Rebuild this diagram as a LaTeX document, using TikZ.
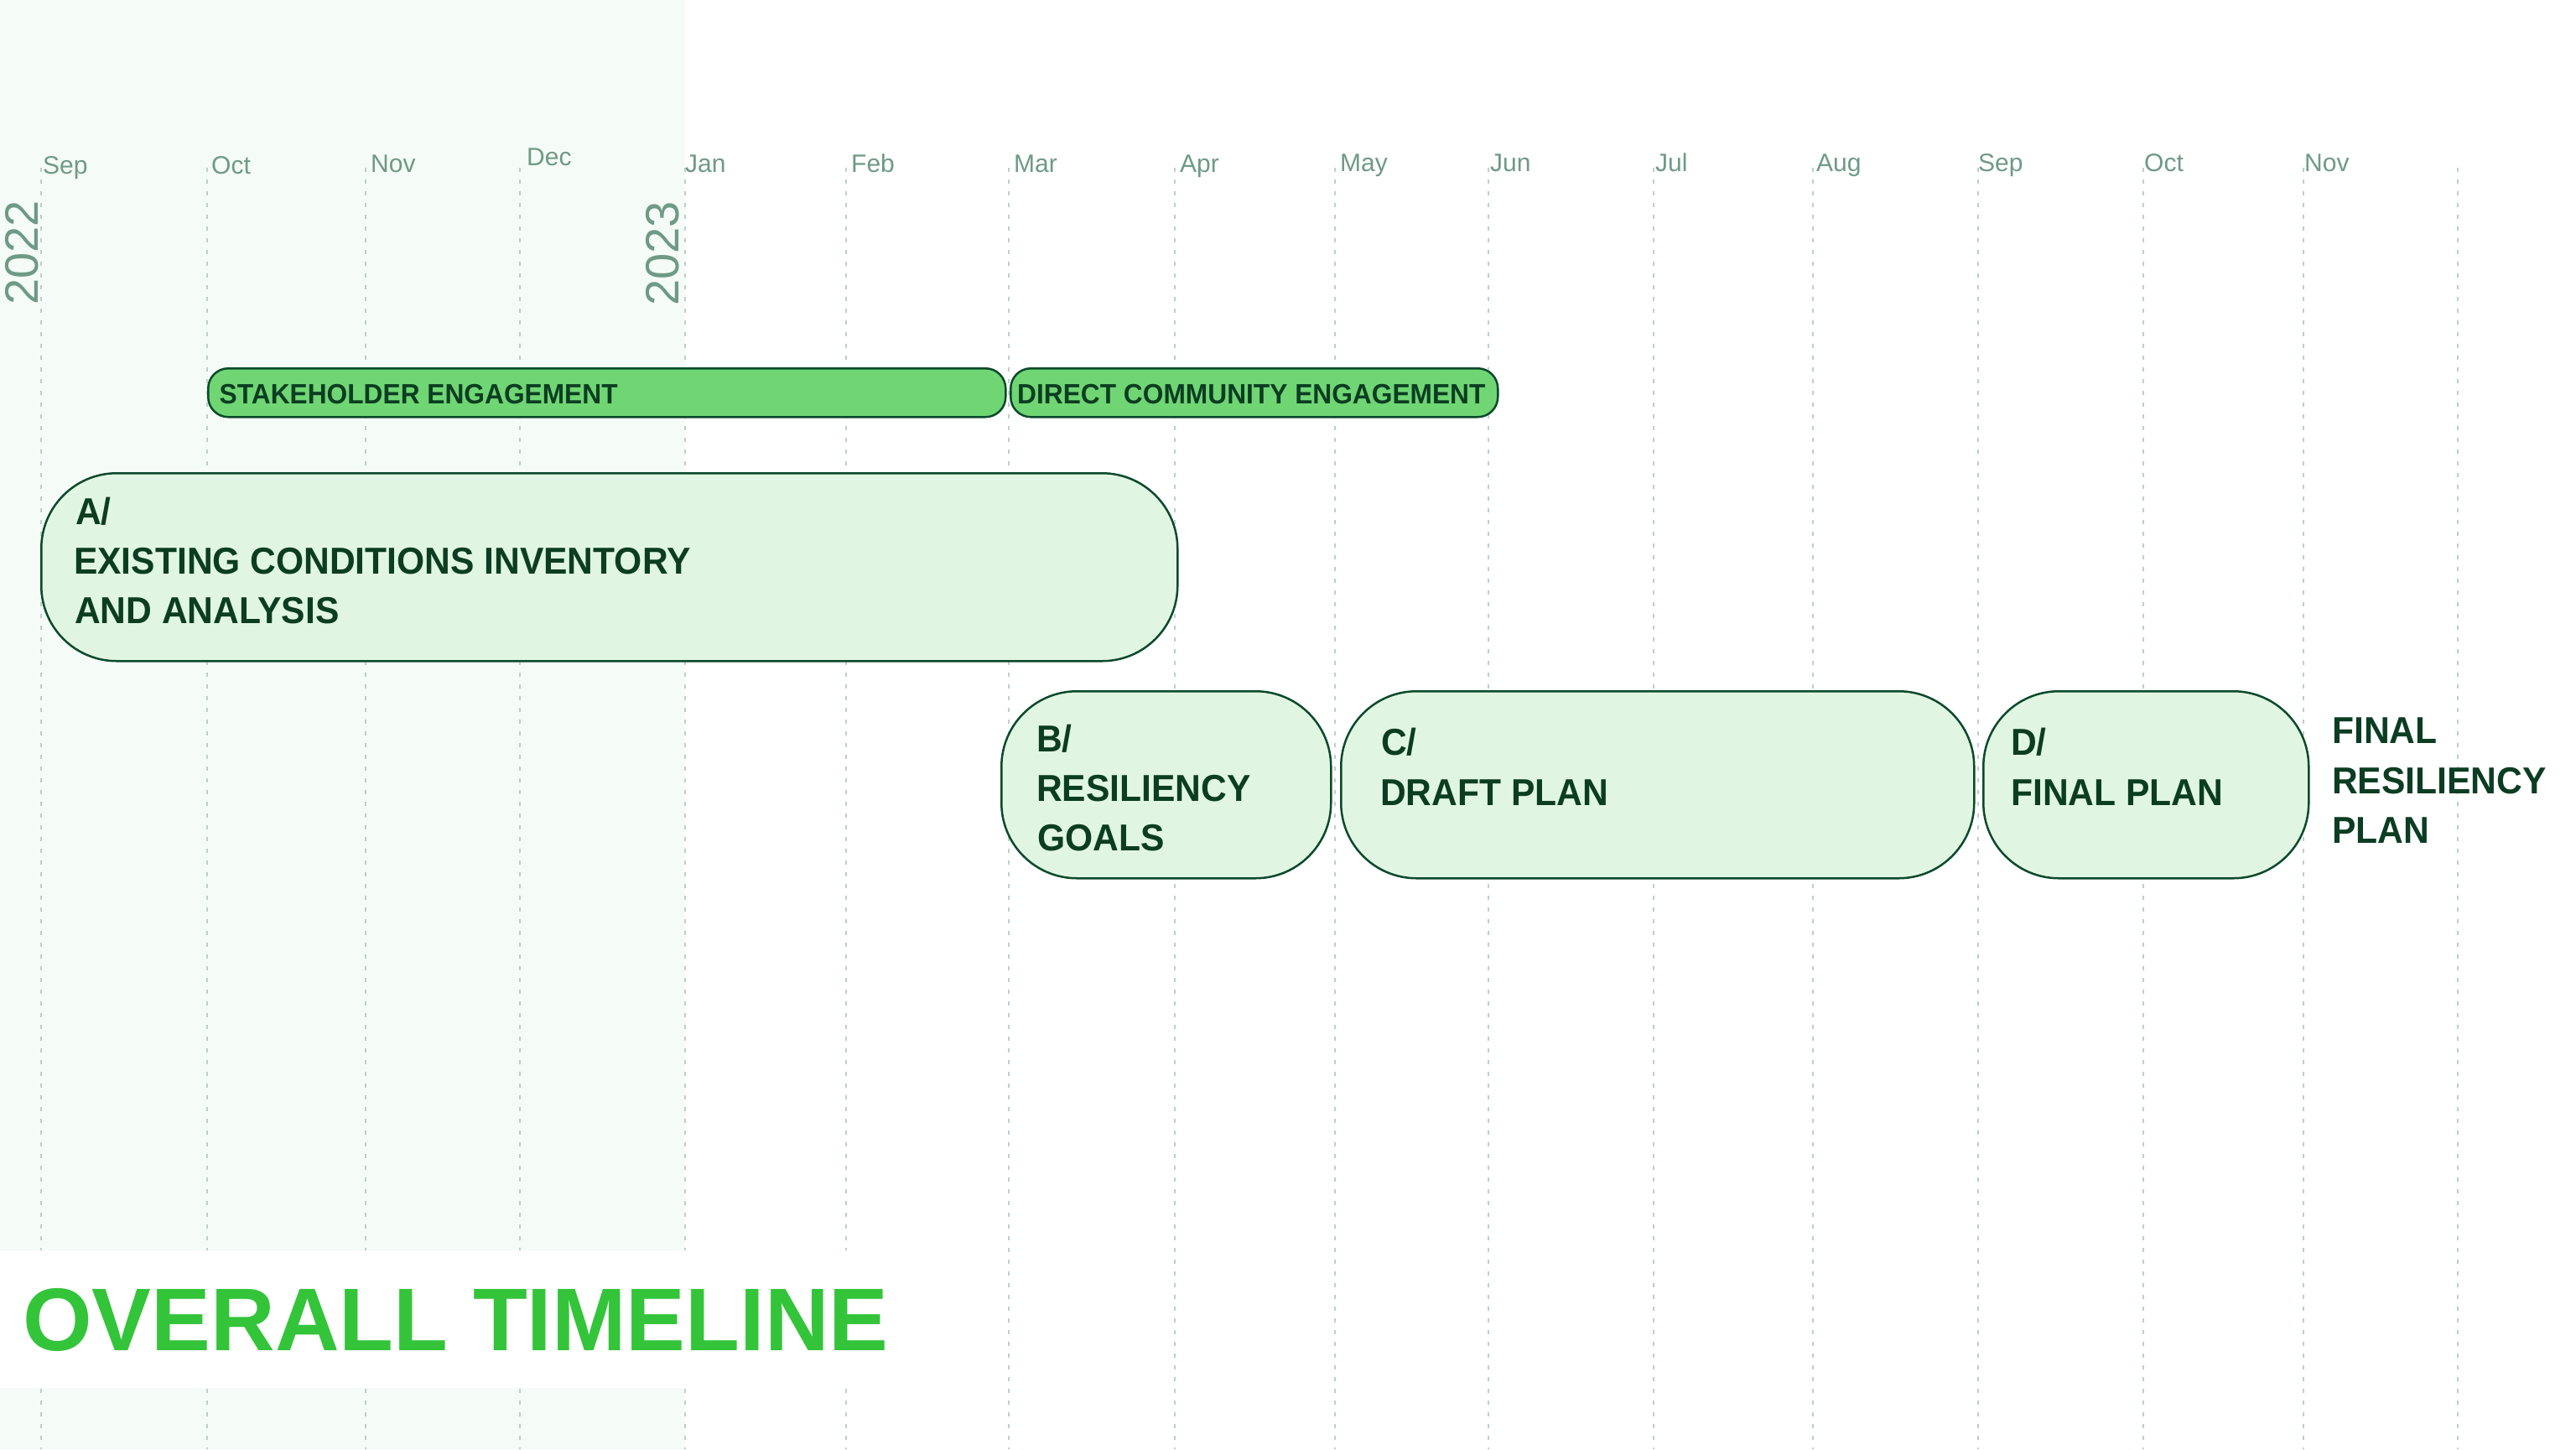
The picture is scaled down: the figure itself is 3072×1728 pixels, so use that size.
\documentclass[tikz,border=0pt]{standalone}
\usepackage{fontspec}
\setmainfont{Liberation Sans}
\newfontfamily\condsans{Liberation Sans}[FakeStretch=0.952]
\definecolor{bandbg}{HTML}{F5FBF6}
\definecolor{dashcol}{HTML}{BECFC9}
\definecolor{monthcol}{HTML}{6E9A86}
\definecolor{barfill}{HTML}{6FD673}
\definecolor{boxfill}{HTML}{E1F6E2}
\definecolor{darkgreen}{HTML}{0B4A2B}
\definecolor{textgreen}{HTML}{0B3D22}
\definecolor{titlegreen}{HTML}{33C43A}
\begin{document}
\begin{tikzpicture}[x=1bp,y=-1bp,
  month/.style={anchor=base west, inner sep=0pt, text=monthcol, font=\fontsize{30bp}{36bp}\selectfont},
  year/.style={anchor=base west, inner sep=0pt, rotate=90, text=monthcol, font=\fontsize{56bp}{60bp}\selectfont},
  gridline/.style={draw=dashcol, line width=2bp, dash pattern=on 5bp off 9bp},
  bar/.style={draw=darkgreen, fill=barfill, line width=2.5bp, rounded corners=24bp, inner sep=0pt, anchor=north west, minimum height=58bp},
  phase/.style={draw=darkgreen, fill=boxfill, line width=2.5bp, rounded corners=90bp, inner sep=0pt, anchor=north west, minimum height=223bp},
  bartext/.style={anchor=base west, inner sep=0pt, text=textgreen, font=\condsans\bfseries\fontsize{33.3bp}{38bp}\selectfont},
  phasetext/.style={anchor=base west, inner sep=0pt, text=textgreen, font=\condsans\bfseries\fontsize{44.7bp}{50bp}\selectfont},
  titletext/.style={anchor=base west, inner sep=0pt, text=titlegreen, font=\bfseries\fontsize{106.2bp}{110bp}\selectfont}
]
\useasboundingbox (0,0) rectangle (3072,1728);
\fill[white] (0,0) rectangle (3072,1728);
% light band for 2022
\fill[bandbg] (0,0) rectangle (817,1728);
% month grid lines
\foreach \gx in {49,247,436,620,817,1009,1203,1401,1592,1775,1972,2162,2359,2556,2747,2931}
  \draw[gridline] (\gx,200) -- (\gx,1728);
% title band
\fill[white] (0,1491) rectangle (1100,1655);
% month labels
\node[month] (m1) at (51,207) {Sep};
\node[month] (m2) at (252,207) {Oct};
\node[month] (m3) at (442,205) {Nov};
\node[month] (m4) at (628,197) {Dec};
\node[month] (m5) at (817,205) {Jan};
\node[month] (m6) at (1015,205) {Feb};
\node[month] (m7) at (1209,205) {Mar};
\node[month] (m8) at (1407,205) {Apr};
\node[month] (m9) at (1598,204) {May};
\node[month] (m10) at (1777,204) {Jun};
\node[month] (m11) at (1974,204) {Jul};
\node[month] (m12) at (2166,204) {Aug};
\node[month] (m13) at (2359,204) {Sep};
\node[month] (m14) at (2557,204) {Oct};
\node[month] (m15) at (2748,204) {Nov};
% years
\node[year] (y2022) at (45,364) {2022};
\node[year] (y2023) at (809,365) {2023};
% engagement bars
\node[bar, minimum width=951bp] (stake) at (247,438) {};
\node[bartext] (staket) at (261.5,481) {STAKEHOLDER ENGAGEMENT};
\node[bar, minimum width=581bp] (direct) at (1204,438) {};
\node[bartext] (directt) at (1213,481) {DIRECT COMMUNITY ENGAGEMENT};
% phase A
\node[phase, minimum width=1355bp, minimum height=224bp] (pa) at (48,563) {};
\node[phasetext] (pa1) at (90,625) {A/};
\node[phasetext] (pa2) at (88,684) {EXISTING CONDITIONS INVENTORY};
\node[phasetext] (pa3) at (89,743) {AND ANALYSIS};
% phase B
\node[phase, minimum width=393bp] (pb) at (1193,823) {};
\node[phasetext] (pb1) at (1236,896) {B/};
\node[phasetext] (pb2) at (1236,955) {RESILIENCY};
\node[phasetext] (pb3) at (1237,1014) {GOALS};
% phase C
\node[phase, minimum width=755bp] (pc) at (1598,823) {};
\node[phasetext] (pc1) at (1647,900) {C/};
\node[phasetext] (pc2) at (1646,960) {DRAFT PLAN};
% phase D
\node[phase, minimum width=388bp] (pd) at (2364,823) {};
\node[phasetext] (pd1) at (2398,900) {D/};
\node[phasetext] (pd2) at (2398,960) {FINAL PLAN};
% outcome
\node[phasetext] (out1) at (2781,886) {FINAL};
\node[phasetext] (out2) at (2781,946) {RESILIENCY};
\node[phasetext] (out3) at (2781,1005) {PLAN};
% title
\node[titletext] (title) at (27,1610) {OVERALL TIMELINE};
\end{tikzpicture}
\end{document}
